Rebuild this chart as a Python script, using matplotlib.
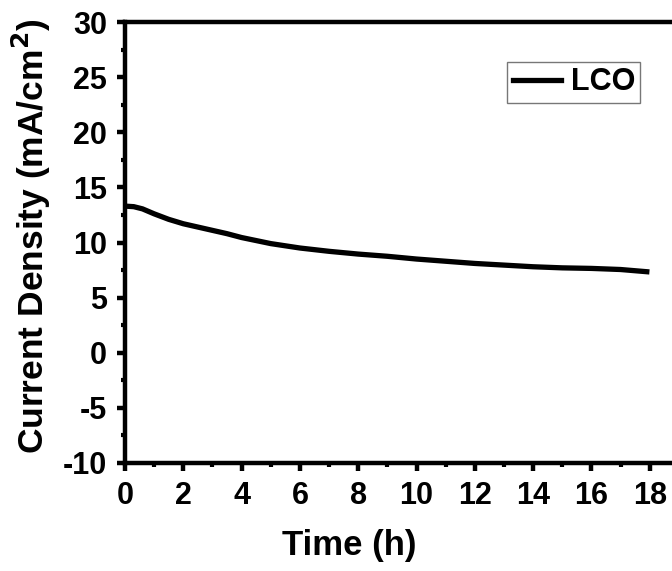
import matplotlib
matplotlib.use("Agg")
import matplotlib.pyplot as plt
from matplotlib.ticker import MultipleLocator

plt.rcParams['font.family'] = ['Liberation Sans', 'DejaVu Sans']
plt.rcParams['font.weight'] = 'bold'
plt.rcParams['axes.unicode_minus'] = False

time_h = [0, 0.3, 0.6, 1.0, 1.5, 2.0, 2.5, 3.0, 3.5, 4, 5, 6, 7, 8, 9, 10,
          11, 12, 13, 14, 15, 16, 17, 17.9]
current_density = [13.3, 13.25, 13.05, 12.6, 12.1, 11.7, 11.4, 11.1, 10.8, 10.45,
                   9.9, 9.5, 9.2, 8.95, 8.75, 8.5, 8.3, 8.1, 7.95, 7.8, 7.7,
                   7.65, 7.55, 7.35]
series_label = "LCO"
x_label = "Time (h)"
y_label = "Current Density (mA/cm$^\\mathbf{2}$)"

fig = plt.figure(figsize=(6.72, 5.71), dpi=100)
ax = fig.add_axes([125/672, 108/571, 583/672, 441/571])
ax.plot(time_h, current_density, color='black', lw=3.8, label=series_label)
ax.set_xlim(0, 20)
ax.set_ylim(-10, 30)
ax.set_xticks([0, 2, 4, 6, 8, 10, 12, 14, 16, 18])
ax.xaxis.set_minor_locator(MultipleLocator(1))
ax.yaxis.set_major_locator(MultipleLocator(5))
ax.yaxis.set_minor_locator(MultipleLocator(2.5))
for s in ax.spines.values():
    s.set_linewidth(3.2)
ax.tick_params(which='major', direction='out', length=6, width=3.2, labelsize=22)
ax.tick_params(axis='x', which='major', pad=7)
ax.tick_params(axis='y', which='major', pad=7)
ax.tick_params(which='minor', direction='out', length=3, width=3)
ax.set_xlabel(x_label, fontsize=25, fontweight='bold')
ax.set_ylabel(y_label, fontsize=25.5, fontweight='bold')
ax.xaxis.set_label_coords(224/583, -66/441)
ax.yaxis.set_label_coords(-72/583, 227/441)
leg = ax.legend(loc='upper left', bbox_to_anchor=(382/583, 1 - 40/441), frameon=True,
                fancybox=False, edgecolor='#555555', fontsize=22, handlelength=1.6,
                handletextpad=0.3, borderpad=0.18, borderaxespad=0)
leg.get_frame().set_linewidth(1)
fig.savefig("out.png", dpi=100)
